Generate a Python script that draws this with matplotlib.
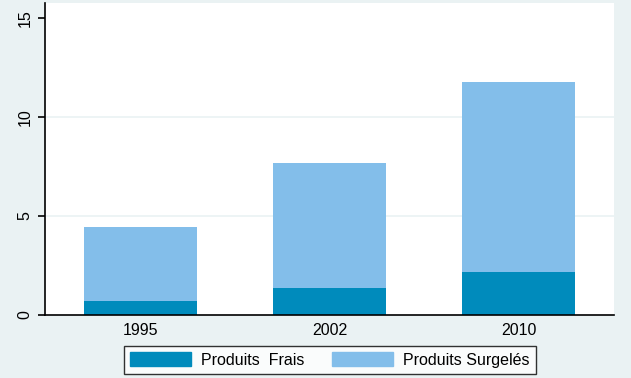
import numpy as np
import matplotlib.pyplot as plt
from matplotlib.patches import Patch

years = ['1995', '2002', '2010']
frais = [0.71, 1.36, 2.17]
surgeles = [3.73, 6.32, 9.60]  # stacked on top of frais

dark = '#008BBC'
light = '#83BEEA'
bg = '#EAF2F3'

plt.rcParams['font.family'] = ['Liberation Sans', 'DejaVu Sans']

fig = plt.figure(figsize=(6.31, 3.78), dpi=100, facecolor=bg)
ax = fig.add_axes([45 / 631, 1 - 315 / 378, 569 / 631, 312.5 / 378])
ax.set_facecolor('white')

x = np.arange(len(years))
ax.bar(x, frais, width=0.6, color=dark, zorder=2)
ax.bar(x, surgeles, width=0.6, bottom=frais, color=light, zorder=2)

ax.set_xlim(-0.505, 2.505)
ax.set_ylim(0, 15.78)
ax.set_yticks([0, 5, 10, 15])
ax.set_xticks(x)
ax.set_xticklabels(years)
for v in [5, 10]:
    ax.axhline(v, color=bg, lw=1.2, zorder=1)

for s in ['top', 'right']:
    ax.spines[s].set_visible(False)
ax.spines['left'].set_linewidth(1.2)
ax.spines['bottom'].set_linewidth(1.2)
ax.tick_params(axis='y', length=5, width=1.2, labelsize=11.5, pad=4, labelrotation=90)
ax.tick_params(axis='x', length=0, labelsize=11.5, pad=6)
for lab in ax.get_yticklabels():
    lab.set_va('center')

handles = [Patch(color=dark, label='Produits  Frais'),
           Patch(color=light, label='Produits Surgelés')]
leg = fig.legend(handles=handles, loc='center', ncol=2,
                 bbox_to_anchor=(330 / 631, 1 - 360 / 378), fontsize=11.5,
                 frameon=True, fancybox=False, handlelength=3.8, handleheight=0.95,
                 handletextpad=0.65, columnspacing=1.75, borderpad=0.4)
leg.get_frame().set_edgecolor('black')
leg.get_frame().set_linewidth(1.0)
leg.get_frame().set_facecolor('white')

fig.savefig('out.png', dpi=100, facecolor=bg)
